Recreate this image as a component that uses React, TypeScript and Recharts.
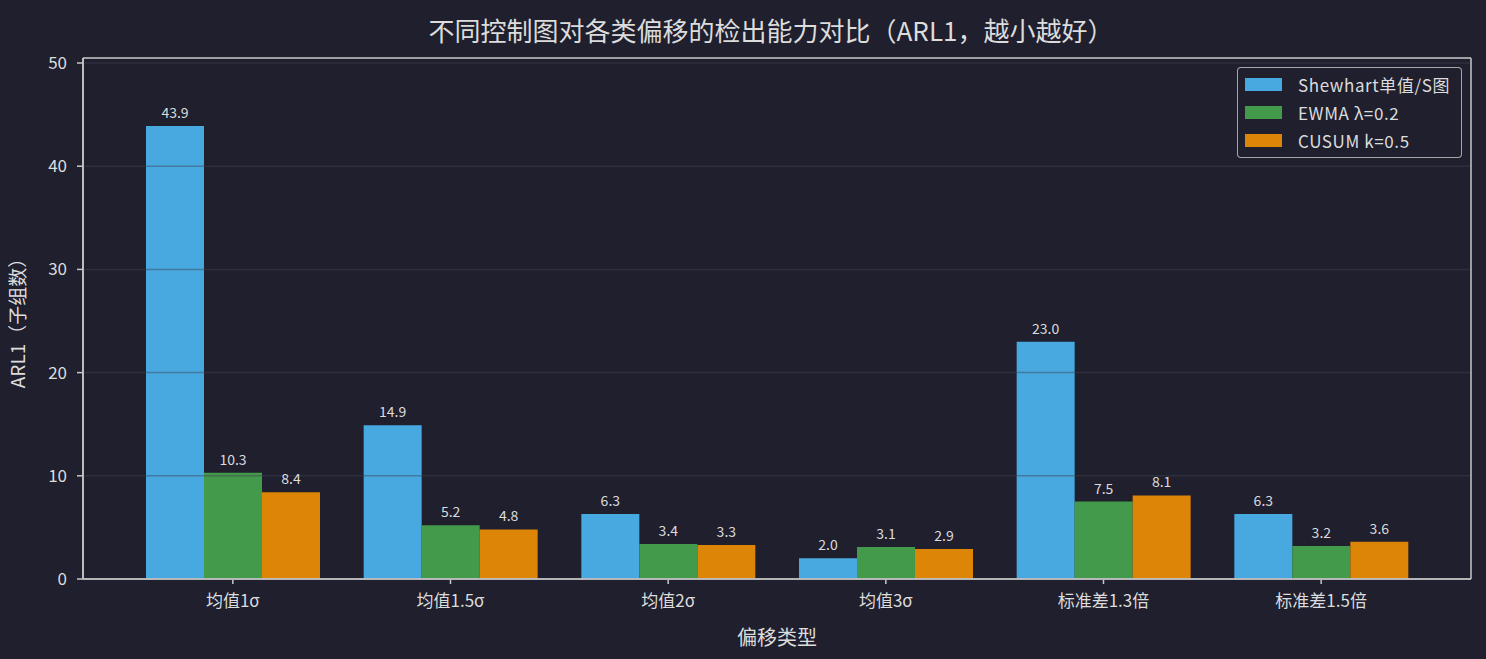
import React from 'react';
import { BarChart, Bar, XAxis, YAxis, CartesianGrid, LabelList, Legend } from 'recharts';

const categories = ['均值1σ', '均值1.5σ', '均值2σ', '均值3σ', '标准差1.3倍', '标准差1.5倍'];
const shewhart = [43.9, 14.9, 6.3, 2.0, 23.0, 6.3];
const ewma = [10.3, 5.2, 3.4, 3.1, 7.5, 3.2];
const cusum = [8.4, 4.8, 3.3, 2.9, 8.1, 3.6];
const yTicks = [0, 10, 20, 30, 40, 50];

const seriesNames = ['Shewhart单值/S图', 'EWMA λ=0.2', 'CUSUM k=0.5'];
const seriesKeys = ['shewhart', 'ewma', 'cusum'];
const seriesColors = ['#48A9E0', '#449A4B', '#DD8506'];

const data = categories.map((name, i) => ({
  name,
  shewhart: shewhart[i],
  ewma: ewma[i],
  cusum: cusum[i],
}));

const BG = '#1F1F2E';
const TEXT = '#DCDCDC';
const AXIS = '#C8C8C8';
const FONT = '"Noto Sans CJK SC", "Noto Sans", sans-serif';

const LegendBox = () => (
  <div
    style={{
      width: 225,
      height: 91,
      border: '1.5px solid rgba(200,200,200,0.8)',
      borderRadius: 4,
      background: BG,
      boxSizing: 'border-box',
      paddingTop: 2,
      fontFamily: FONT,
    }}
  >
    {seriesNames.map((n, i) => (
      <div key={n} style={{ display: 'flex', alignItems: 'center', height: 28 }}>
        <div style={{ width: 37, height: 13, background: seriesColors[i], marginLeft: 7, marginRight: 16 }} />
        <span style={{ color: TEXT, fontSize: 17, letterSpacing: 0.6, whiteSpace: 'nowrap' }}>{n}</span>
      </div>
    ))}
  </div>
);

const fmt = (v: number) => v.toFixed(1);

const frameH = (p: any) => [p.offset.top, p.offset.top + p.offset.height];
const frameV = (p: any) => [p.offset.left, p.offset.left + p.offset.width];

export default function App() {
  return (
    <div style={{ position: 'absolute', left: 0, top: 0, width: 1486, height: 659, background: BG }}>
      <BarChart
        width={1486}
        height={659}
        data={data}
        margin={{ top: 58, right: 15, left: 0, bottom: 0 }}
        barGap={0}
        style={{ fontFamily: FONT }}
      >
        <text x={771} y={29} textAnchor="middle" dominantBaseline="central" fill={TEXT} fontSize={26} fontFamily={FONT}>
          不同控制图对各类偏移的检出能力对比（ARL1，越小越好）
        </text>
        <XAxis
          dataKey="name"
          height={80}
          padding={{ left: 41, right: 41 }}
          axisLine={{ stroke: AXIS, strokeWidth: 1.5 }}
          tickLine={{ stroke: AXIS, strokeWidth: 1.5 }}
          tickSize={5}
          tickMargin={11}
          tick={{ fill: TEXT, fontSize: 17, fontFamily: FONT }}
          label={{ value: '偏移类型', position: 'insideBottom', offset: 14, fill: TEXT, fontSize: 20, fontFamily: FONT }}
        />
        <YAxis
          width={83}
          domain={[0, 50.485]}
          ticks={yTicks}
          allowDataOverflow
          axisLine={{ stroke: AXIS, strokeWidth: 1.5 }}
          tickLine={{ stroke: AXIS, strokeWidth: 1.5 }}
          tickSize={6}
          tickMargin={10}
          tick={{ fill: TEXT, fontSize: 17, fontFamily: FONT }}
          label={{
            value: 'ARL1（子组数）',
            angle: -90,
            position: 'insideLeft',
            offset: 18,
            style: { textAnchor: 'middle' },
            fill: TEXT,
            fontSize: 19,
            fontFamily: FONT,
          }}
        />
        {seriesKeys.map((k, i) => (
          <Bar
            key={k}
            dataKey={k}
            name={seriesNames[i]}
            fill={seriesColors[i]}
            barSize={58}
            isAnimationActive={false}
          >
            <LabelList dataKey={k} position="top" offset={8} fill={TEXT} fontSize={14} fontFamily={FONT} formatter={fmt as any} />
          </Bar>
        ))}
        <CartesianGrid
          vertical={false}
          stroke="#404050"
          strokeOpacity={0.45}
          strokeWidth={1.5}
          zIndex={1000}
        />
        <CartesianGrid
          horizontalCoordinatesGenerator={frameH}
          verticalCoordinatesGenerator={frameV}
          stroke={AXIS}
          strokeWidth={1.5}
          zIndex={1001}
        />
        <Legend
          layout="vertical"
          align="center"
          verticalAlign="middle"
          content={<LegendBox />}
          wrapperStyle={{ position: 'absolute', left: 1237, top: 67, width: 225, height: 91 }}
        />
      </BarChart>
    </div>
  );
}
